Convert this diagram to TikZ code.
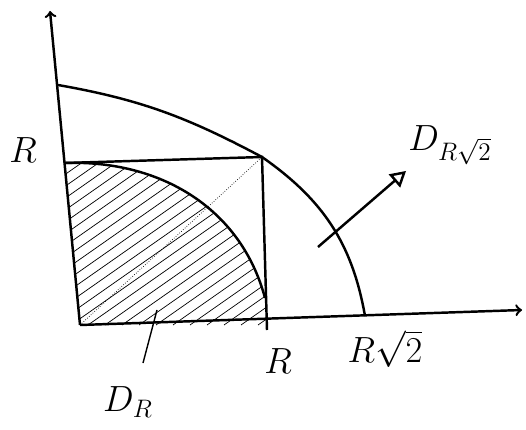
\documentclass[tikz,border=0pt]{standalone}
\usetikzlibrary{arrows}

\begin{document}
\begin{tikzpicture}[x=0.02cm, y=0.02cm, line width=1.4pt]
\useasboundingbox (0,0) rectangle (526,429);

\coordinate (O) at (80,104);
\coordinate (Y) at (50,418);
\coordinate (X) at (522,119);
\coordinate (A) at (65,266);
\coordinate (C) at (262,272);
\coordinate (B) at (267,99);
\coordinate (E) at (58,344);
\coordinate (F) at (365,113);
\coordinate (G) at (265,131);
\coordinate (P) at (318,182);
\coordinate (Q) at (406,258);
\coordinate (S) at (143,66);
\coordinate (T) at (157,119);

% hatching of D_R
\begin{scope}
\clip (A) to[out=2,in=105] (G) -- (B) -- (O) -- cycle;
\foreach \i in {-320,-303,...,260}
  \draw[thin] (\i,104) -- (\i+300,314);
\end{scope}

\draw[->] (O) -- (Y);
\draw[->] (O) -- (X);
\draw (A) -- (C) -- (B);
\draw[densely dotted, thin] (O) -- (C);
\draw (A) to[out=2,in=105] (G);
\draw (E) to[out=-10,in=152] (C) to[out=-35,in=100] (F);
\draw[-open triangle 60] (P) -- (Q);
\draw[thick] (S) -- (T);

\node (rl) at (23,279) {\huge $R$};
\node (rb) at (278,68) {\huge $R$};
\node (rs) at (385,80) {\huge $R\sqrt{2}$};
\node (dq) at (450,284) {\huge $D_{R\sqrt{2}}$};
\node (dr) at (128,27) {\huge $D_R$};

\end{tikzpicture}
\end{document}
